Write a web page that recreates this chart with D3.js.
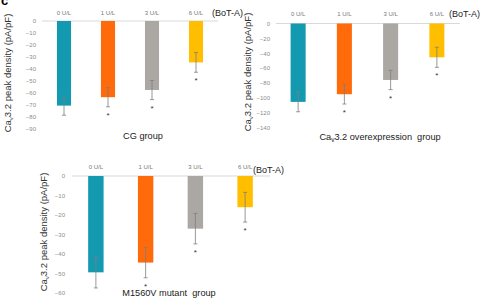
<!DOCTYPE html>
<html><head><meta charset="utf-8">
<script src="https://cdn.jsdelivr.net/npm/d3@7"></script>
<style>body{margin:0;background:#fff}svg{display:block}</style>
</head><body><svg id="c" width="480" height="298"></svg>
<script>
const categories = ["0 U/L","1 U/L","3 U/L","6 U/L"];
const colors = ["#1399b0","#ff6a0b","#aba7a3","#ffbf00"];
const cgValues = [-70.5,-63.5,-57.5,-34.5];
const cgErrors = [8,8,8,8.2];
const cgSig = [false,true,true,true];
const cgTicks = [0,-10,-20,-30,-40,-50,-60,-70,-80,-90];
const oeValues = [-105.5,-95.2,-76,-45.5];
const oeErrors = [13.3,13.2,13,13.5];
const oeSig = [false,true,true,true];
const oeTicks = [0,-20,-40,-60,-80,-100,-120,-140];
const muValues = [-49.4,-44.4,-27,-16];
const muErrors = [8,7.8,7.8,7.6];
const muSig = [false,true,true,true];
const muTicks = [0,-10,-20,-30,-40,-50,-60];

const svg = d3.select("#c");
svg.append("text").attr("x",1).attr("y",5).text("c")
  .attr("font-family","Liberation Sans, Arial").attr("font-weight","bold").attr("font-size",13).attr("fill","#000");

function panel(o){
  const g = svg.append("g");
  const y = d3.scaleLinear().domain([0,o.min]).range([o.y0,o.y1]);
  const x = d3.scaleBand().domain(categories).range([o.x0,o.x1]).paddingInner(o.pad).paddingOuter(o.pad/2);
  g.append("line").attr("x1",o.lx0).attr("x2",o.lx1).attr("y1",y(0)).attr("y2",y(0))
    .attr("stroke","#d9d9d9").attr("stroke-width",1);
  const ax = d3.axisLeft(y).tickValues(o.ticks).tickSize(0).tickPadding(0);
  const ag = g.append("g").attr("transform",`translate(${o.tx},0)`).call(ax);
  ag.select(".domain").remove();
  ag.selectAll("text").attr("font-family","Liberation Sans, Arial").attr("font-size",6).attr("fill","#8c8c8c");
  g.selectAll("rect.b").data(o.values).join("rect")
    .attr("x",(d,i)=>x(categories[i])).attr("width",x.bandwidth())
    .attr("y",y(0)).attr("height",d=>y(d)-y(0)).attr("fill",(d,i)=>colors[i]);
  o.values.forEach((v,i)=>{
    const cx = x(categories[i])+x.bandwidth()/2;
    const t = y(v+o.errors[i]), b = y(v-o.errors[i]);
    g.append("line").attr("x1",cx).attr("x2",cx).attr("y1",t).attr("y2",b).attr("stroke","#7f7f7f").attr("stroke-width",0.8);
    [t,b].forEach(yy=>g.append("line").attr("x1",cx-2).attr("x2",cx+2).attr("y1",yy).attr("y2",yy).attr("stroke","#7f7f7f").attr("stroke-width",0.8));
    if(o.sig[i]) g.append("text").attr("x",cx).attr("y",b+11).attr("text-anchor","middle")
      .attr("font-family","Liberation Sans, Arial").attr("font-size",8).attr("fill","#333").text("*");
    g.append("text").attr("x",cx).attr("y",o.catY).attr("text-anchor","middle")
      .attr("font-family","Liberation Sans, Arial").attr("font-size",6).attr("fill","#777").text(categories[i]);
  });
  g.append("text").attr("x",o.botX).attr("y",o.botY).attr("font-family","Liberation Sans, Arial")
    .attr("font-size",9).attr("fill","#222").text("(BoT-A)");
  const yt = g.append("text").attr("transform",`translate(${o.ytX},${o.ytY}) rotate(-90)`).attr("text-anchor","middle")
    .attr("font-family","Liberation Sans, Arial").attr("font-size",9.5).attr("fill","#333");
  yt.append("tspan").text("Ca");
  yt.append("tspan").attr("font-size",6).attr("dy",2).text("v");
  yt.append("tspan").attr("dy",-2).text("3.2 peak density (pA/pF)");
  const tt = g.append("text").attr("x",o.titleX).attr("y",o.titleY).attr("text-anchor","middle")
    .attr("font-family","Liberation Sans, Arial").attr("font-size",9.2).attr("fill","#222").style("white-space","pre");
  o.title.forEach(p=>{ const s = tt.append("tspan").text(p.t); if(p.sub){s.attr("font-size",6.5).attr("dy",2);} else if(p.after){s.attr("dy",-2);} });
}

panel({values:cgValues,errors:cgErrors,sig:cgSig,ticks:cgTicks,min:-90,y0:21,y1:129,
  x0:42,x1:218,pad:0.68,lx0:42,lx1:218,tx:36,catY:15,botX:212,botY:16,
  ytX:11,ytY:73,titleX:143,titleY:139,title:[{t:"CG group"}]});
panel({values:oeValues,errors:oeErrors,sig:oeSig,ticks:oeTicks,min:-140,y0:23.5,y1:127.5,
  x0:275,x1:460,pad:0.675,lx0:276,lx1:460,tx:270,catY:16,botX:449,botY:17,
  ytX:251,ytY:72,titleX:380,titleY:140,title:[{t:"Ca"},{t:"v",sub:true},{t:"3.2 overexpression  group",after:true}]});
panel({values:muValues,errors:muErrors,sig:muSig,ticks:muTicks,min:-60,y0:176,y1:293,
  x0:71,x1:270,pad:0.69,lx0:72,lx1:270,tx:65,catY:169,botX:253,botY:173,
  ytX:47,ytY:232,titleX:169,titleY:296,title:[{t:"M1560V mutant  group"}]});
</script></body></html>
